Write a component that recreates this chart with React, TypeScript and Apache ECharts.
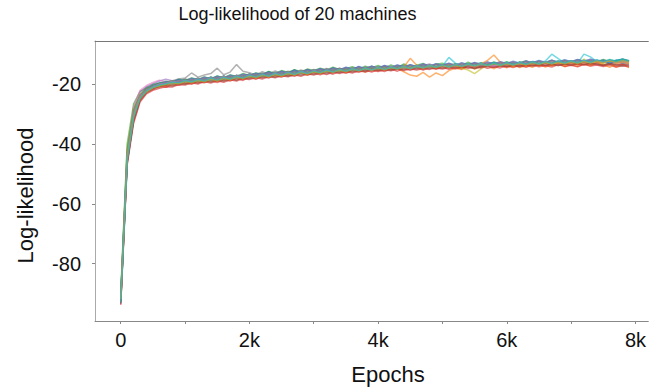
import React, { useEffect, useRef } from "react";
import * as echarts from "echarts";

const TITLE = "Log-likelihood of 20 machines";
const X_NAME = "Epochs";
const Y_NAME = "Log-likelihood";
const X_TICKS = [0, 1000, 2000, 3000, 4000, 5000, 6000, 7000, 8000];
const X_LABELS = [0, 2000, 4000, 6000, 8000];
const Y_TICKS = [-20, -40, -60, -80];
const EPOCH_STEP = 100;
const COLORS = ["#1f77b4", "#ff7f0e", "#2ca02c", "#d62728", "#9467bd", "#8c564b", "#e377c2", "#7f7f7f", "#bcbd22", "#17becf"];

const M01 = [-91.6,-43.0,-28.4,-23.9,-21.0,-20.9,-19.4,-20.1,-18.9,-19.6,
-18.5,-19.3,-18.1,-18.9,-17.6,-18.5,-17.2,-18.3,-17.0,-17.7,
-16.4,-17.5,-16.9,-15.8,-16.9,-15.7,-16.6,-15.2,-16.3,-15.0,
-16.1,-14.9,-15.7,-14.6,-15.8,-14.4,-15.3,-14.2,-15.2,-13.9,
-14.9,-13.8,-15.0,-14.1,-13.6,-14.8,-13.7,-14.6,-13.5,-14.7,
-13.4,-14.5,-13.2,-14.3,-13.8,-12.9,-14.2,-13.3,-14.0,-12.8,
-13.9,-12.7,-13.8,-13.0,-12.5,-13.7,-12.8,-13.6,-12.4,-13.5,
-12.6,-13.4,-12.2,-13.3,-12.9,-12.1,-13.2,-12.3,-13.0,-12.5];
const M02 = [-93.0,-45.5,-31.0,-24.8,-22.3,-20.7,-21.1,-19.9,-20.4,-19.3,
-19.8,-18.9,-19.5,-18.4,-19.2,-18.1,-18.7,-17.7,-18.6,-17.4,
-18.0,-16.9,-17.6,-16.5,-17.4,-16.2,-17.1,-16.4,-15.9,-16.8,
-15.6,-16.5,-15.3,-16.2,-14.9,-16.0,-15.4,-14.8,-15.9,-14.6,
-15.5,-14.3,-15.2,-14.7,-15.8,-16.9,-17.3,-16.0,-17.6,-16.2,
-17.1,-15.4,-14.6,-15.0,-13.9,-14.9,-14.1,-13.8,-14.8,-13.6,
-14.5,-13.4,-14.4,-13.7,-14.3,-13.1,-14.2,-13.5,-13.0,-14.1,
-13.3,-14.0,-13.2,-13.8,-12.9,-13.7,-13.1,-14.2,-13.4,-14.4];
const M03 = [-90.0,-40.0,-26.5,-22.4,-21.2,-19.9,-19.6,-19.0,-19.2,-18.3,
-18.7,-17.9,-18.4,-17.5,-18.1,-17.2,-17.8,-16.9,-17.3,-16.4,
-17.0,-16.2,-16.6,-15.7,-16.3,-15.4,-16.0,-15.1,-15.8,-14.9,
-15.4,-14.6,-15.2,-14.3,-15.0,-14.8,-14.1,-14.9,-13.9,-14.5,
-13.7,-14.6,-13.5,-14.4,-13.2,-14.2,-13.6,-13.0,-14.0,-13.3,
-12.9,-13.8,-13.1,-13.7,-12.6,-13.5,-12.8,-13.4,-12.5,-13.2,
-12.4,-13.3,-12.7,-12.2,-13.1,-12.3,-12.9,-11.9,-12.8,-12.1,
-12.7,-11.8,-12.5,-12.0,-12.6,-11.7,-12.4,-12.1,-11.6,-12.3];
const M04 = [-92.5,-46.0,-32.5,-25.5,-22.8,-21.7,-20.6,-21.0,-20.1,-20.3,
-19.6,-20.0,-19.1,-19.5,-18.7,-19.4,-18.5,-18.9,-18.0,-18.7,
-17.6,-18.3,-17.4,-17.9,-17.0,-17.6,-16.8,-17.3,-16.4,-17.0,
-16.2,-16.8,-15.9,-16.6,-15.7,-16.3,-15.5,-16.0,-15.2,-15.9,
-15.1,-15.7,-14.8,-15.6,-14.7,-15.3,-14.5,-15.2,-14.4,-15.0,
-14.3,-15.0,-14.2,-14.8,-14.0,-14.7,-13.9,-14.6,-14.1,-14.5,
-13.8,-14.4,-13.6,-14.3,-13.5,-14.1,-13.7,-14.2,-13.4,-14.0,
-13.6,-14.1,-13.3,-13.9,-13.5,-14.0,-13.6,-14.2,-13.8,-14.1];
const M05 = [-91.0,-43.5,-28.0,-22.6,-20.8,-19.9,-18.9,-18.3,-18.8,-19.4,
-18.2,-18.9,-17.9,-18.6,-17.5,-18.4,-17.3,-18.1,-16.9,-17.7,
-16.6,-17.3,-16.3,-17.1,-15.9,-16.7,-15.8,-16.5,-15.4,-16.2,
-15.1,-15.9,-14.8,-15.7,-14.6,-15.4,-14.9,-14.3,-15.2,-14.1,
-14.8,-13.9,-14.7,-13.8,-14.5,-13.6,-14.4,-13.7,-13.2,-14.2,
-13.5,-13.1,-14.0,-13.3,-13.9,-12.9,-13.8,-13.2,-12.7,-13.6,
-12.8,-13.5,-12.6,-13.4,-12.4,-13.2,-12.7,-13.1,-12.3,-13.0,
-12.5,-12.9,-12.2,-12.8,-12.0,-12.7,-12.3,-12.6,-11.9,-12.4];
const M06 = [-92.0,-45.0,-30.5,-24.6,-22.2,-21.3,-20.3,-20.4,-19.5,-19.9,
-19.2,-19.6,-18.7,-19.2,-18.3,-18.9,-18.1,-18.5,-17.6,-18.2,
-17.3,-17.9,-16.9,-17.4,-16.6,-17.2,-16.3,-16.9,-16.0,-16.6,
-15.7,-16.3,-15.4,-16.1,-15.3,-15.8,-15.0,-15.6,-14.7,-15.4,
-14.6,-15.3,-14.4,-15.0,-14.3,-14.9,-14.1,-14.8,-14.0,-14.6,
-13.9,-14.5,-13.7,-14.4,-13.6,-14.2,-13.5,-14.1,-13.3,-14.0,
-13.2,-13.9,-13.4,-13.8,-13.1,-13.7,-12.9,-13.6,-13.0,-13.5,
-12.8,-13.4,-12.7,-13.3,-12.9,-13.5,-12.8,-13.2,-13.4,-13.1];
const M07 = [-91.8,-43.2,-27.5,-22.0,-20.4,-19.4,-18.6,-19.3,-19.0,-18.6,
-19.1,-18.2,-18.8,-17.8,-18.5,-17.5,-18.2,-17.2,-17.9,-16.9,
-17.4,-16.6,-17.2,-16.2,-16.8,-15.9,-16.5,-15.6,-16.4,-15.3,
-15.9,-15.0,-15.7,-14.8,-15.5,-14.5,-15.3,-14.4,-15.0,-14.2,
-14.9,-14.0,-14.7,-13.8,-14.6,-13.9,-14.3,-13.6,-14.4,-13.5,
-14.2,-13.4,-14.0,-13.3,-13.9,-13.1,-13.7,-13.2,-13.8,-12.9,
-13.6,-12.8,-13.5,-12.7,-13.4,-12.6,-13.3,-12.5,-13.1,-12.4,
-13.0,-12.3,-12.8,-12.2,-12.9,-12.1,-12.7,-12.4,-12.6,-12.2];
const M08 = [-92.2,-44.5,-30.0,-24.0,-21.6,-20.6,-19.9,-19.5,-18.8,-18.2,
-17.9,-16.2,-17.6,-16.9,-16.4,-14.6,-16.8,-15.9,-13.4,-15.6,
-16.1,-16.9,-15.8,-16.6,-15.5,-16.4,-15.6,-16.1,-15.2,-15.9,
-15.0,-15.6,-14.7,-15.5,-14.6,-15.3,-14.4,-15.1,-14.2,-14.9,
-14.1,-14.8,-13.9,-14.6,-13.8,-14.4,-13.7,-14.3,-13.5,-14.1,
-13.4,-14.0,-13.3,-13.9,-13.1,-13.8,-13.0,-13.6,-12.9,-13.5,
-12.8,-13.4,-12.7,-13.3,-12.6,-13.1,-12.5,-13.0,-12.4,-12.9,
-12.3,-12.8,-12.2,-12.7,-12.1,-12.6,-12.0,-12.5,-11.9,-12.4];
const M09 = [-90.8,-41.5,-28.3,-23.3,-21.7,-20.6,-20.2,-19.4,-19.7,-18.9,
-19.3,-18.5,-19.0,-18.0,-18.6,-17.6,-18.3,-17.3,-17.9,-16.9,
-17.5,-16.6,-17.3,-16.3,-16.9,-16.0,-16.7,-15.8,-16.4,-15.5,
-16.1,-15.2,-15.8,-14.9,-15.6,-14.7,-15.4,-14.5,-15.1,-14.3,
-14.9,-14.1,-14.7,-13.9,-14.6,-13.8,-14.4,-13.6,-14.3,-13.4,
-14.1,-13.3,-13.9,-14.6,-15.2,-16.4,-14.8,-13.6,-13.1,-13.9,
-13.0,-13.8,-12.9,-13.6,-12.8,-13.5,-12.6,-13.3,-12.5,-13.2,
-12.4,-13.1,-11.6,-12.9,-12.3,-13.0,-12.2,-12.8,-12.0,-12.7];
const M10 = [-91.2,-44.8,-30.6,-24.4,-22.1,-20.8,-20.5,-19.6,-19.9,-19.1,
-19.4,-18.6,-19.1,-18.2,-18.8,-17.8,-18.4,-17.5,-18.1,-17.1,
-17.7,-16.8,-17.4,-16.4,-17.0,-16.1,-16.8,-15.7,-16.5,-15.4,
-16.0,-15.1,-15.8,-14.9,-15.5,-14.6,-15.3,-14.4,-15.0,-14.2,
-14.8,-14.0,-14.6,-13.8,-14.5,-13.5,-14.3,-13.7,-14.2,-13.4,
-13.9,-11.0,-12.9,-13.8,-13.0,-13.7,-12.8,-13.5,-12.7,-13.4,
-12.6,-13.3,-12.5,-13.2,-12.3,-13.0,-12.2,-9.9,-11.4,-12.8,
-12.1,-12.9,-9.9,-10.8,-12.4,-11.9,-12.7,-11.8,-12.5,-12.0];
const M11 = [-93.5,-46.5,-31.8,-24.7,-21.9,-20.3,-19.8,-19.1,-19.3,-18.4,
-18.8,-18.0,-18.5,-17.6,-18.2,-17.3,-17.9,-16.9,-17.5,-16.6,
-17.1,-16.3,-16.8,-15.9,-16.6,-15.6,-16.2,-15.3,-16.0,-15.1,
-15.6,-14.8,-15.4,-14.5,-15.1,-14.3,-14.9,-14.0,-14.7,-13.9,
-14.5,-13.7,-14.3,-13.5,-14.2,-13.4,-14.0,-13.2,-13.9,-13.1,
-13.7,-12.9,-13.6,-12.8,-13.4,-12.7,-13.3,-12.5,-13.2,-12.4,
-13.0,-12.3,-12.9,-12.2,-12.8,-12.0,-12.6,-11.9,-12.5,-11.8,
-12.4,-11.7,-12.3,-11.6,-12.2,-11.9,-13.1,-12.0,-11.5,-12.1];
const M12 = [-92.8,-45.8,-31.2,-24.9,-22.6,-21.4,-20.5,-20.6,-19.7,-19.9,
-19.2,-19.7,-18.8,-19.3,-18.4,-18.9,-18.0,-18.6,-17.7,-18.3,
-17.3,-18.0,-17.0,-17.6,-16.7,-17.3,-16.4,-17.0,-16.1,-16.7,
-15.8,-16.4,-15.5,-16.1,-15.2,-15.9,-15.0,-15.6,-14.8,-15.4,
-14.6,-15.2,-14.4,-15.0,-14.2,-11.3,-13.6,-14.6,-13.9,-14.7,
-13.7,-14.5,-13.6,-14.3,-13.4,-14.1,-13.2,-12.0,-10.2,-12.6,
-13.5,-14.2,-13.3,-14.0,-13.2,-13.9,-13.0,-13.8,-12.9,-13.6,
-12.8,-13.5,-12.7,-13.4,-12.6,-13.3,-14.3,-13.1,-12.5,-13.0];
const M13 = [-91.4,-42.0,-28.8,-23.5,-21.5,-20.4,-19.8,-19.5,-18.9,-19.2,
-18.4,-18.9,-18.0,-18.6,-17.6,-18.3,-17.3,-17.9,-17.0,-17.6,
-16.7,-17.3,-16.4,-17.0,-16.1,-16.8,-15.8,-16.5,-15.5,-16.2,
-15.3,-15.9,-15.0,-15.7,-14.8,-15.4,-14.6,-15.2,-14.4,-15.0,
-14.2,-14.9,-14.0,-14.7,-13.9,-14.5,-13.7,-14.4,-13.5,-14.2,
-13.4,-14.1,-13.3,-13.9,-13.1,-13.8,-13.0,-13.6,-12.9,-13.5,
-12.7,-13.4,-12.6,-13.2,-12.5,-13.1,-12.4,-12.9,-12.2,-12.8,
-12.1,-12.7,-12.0,-12.6,-11.9,-12.5,-11.8,-12.3,-11.7,-12.2];
const M14 = [-93.8,-47.0,-33.0,-25.9,-23.2,-22.0,-21.3,-20.8,-20.9,-20.1,
-20.2,-19.5,-19.9,-19.1,-19.6,-18.8,-19.3,-18.5,-18.9,-18.1,
-18.4,-17.7,-18.2,-17.4,-17.8,-17.1,-17.5,-16.8,-17.3,-16.5,
-16.9,-16.2,-16.7,-15.9,-16.4,-15.7,-16.2,-15.5,-15.9,-15.3,
-15.7,-15.1,-15.5,-14.9,-15.4,-14.8,-15.2,-14.7,-15.0,-14.5,
-14.9,-14.4,-14.8,-14.2,-14.6,-14.1,-14.5,-13.9,-14.3,-13.8,
-14.2,-13.7,-14.1,-13.6,-13.9,-13.5,-13.8,-13.4,-13.7,-13.2,
-13.6,-13.1,-13.5,-13.0,-13.4,-13.7,-13.2,-13.6,-13.3,-13.8];
const M15 = [-92.6,-44.2,-29.6,-23.8,-21.8,-20.6,-20.1,-19.3,-19.6,-18.8,
-19.1,-18.3,-18.7,-17.9,-18.4,-17.5,-18.1,-17.2,-17.7,-16.8,
-17.2,-16.5,-16.9,-16.1,-16.7,-15.8,-16.4,-15.5,-16.1,-15.2,
-15.7,-14.9,-15.5,-14.7,-15.2,-14.4,-15.0,-14.2,-14.8,-14.0,
-14.6,-13.8,-14.4,-13.6,-14.3,-13.5,-14.1,-13.3,-14.0,-13.2,
-13.8,-13.0,-13.7,-12.9,-13.5,-12.8,-13.4,-12.6,-13.3,-12.5,
-13.1,-12.4,-13.0,-12.3,-12.8,-12.2,-12.7,-12.0,-12.6,-11.9,
-12.4,-11.8,-12.3,-11.7,-12.2,-12.6,-12.0,-12.5,-11.9,-12.3];
const M16 = [-93.2,-46.2,-31.7,-25.2,-22.7,-21.5,-20.8,-20.2,-20.6,-19.7,
-20.0,-19.1,-19.6,-18.7,-19.3,-18.4,-19.0,-18.1,-18.6,-17.8,
-18.1,-17.4,-17.8,-17.1,-17.6,-16.8,-17.3,-16.5,-17.0,-16.2,
-16.6,-15.9,-16.4,-15.6,-16.1,-15.4,-15.9,-15.2,-15.6,-14.9,
-15.4,-14.8,-15.3,-14.6,-15.1,-14.5,-14.9,-14.3,-14.8,-14.2,
-14.6,-14.0,-14.5,-13.9,-14.3,-14.7,-14.1,-13.7,-14.2,-13.6,
-14.0,-13.5,-13.9,-13.3,-13.8,-13.2,-13.6,-13.1,-13.7,-13.0,
-13.5,-12.9,-13.4,-12.8,-13.3,-13.6,-13.1,-13.5,-13.9,-13.4];
const M17 = [-91.6,-43.8,-29.8,-23.9,-21.9,-20.8,-19.9,-19.6,-19.0,-19.3,
-18.6,-19.0,-18.1,-18.7,-17.8,-18.3,-17.4,-18.0,-17.1,-17.6,
-16.8,-17.4,-16.5,-17.1,-16.2,-16.8,-15.9,-16.6,-15.6,-16.3,
-15.4,-16.0,-15.1,-15.8,-14.9,-15.5,-14.7,-15.3,-14.5,-15.1,
-14.3,-14.9,-14.1,-14.7,-13.9,-14.6,-13.8,-14.4,-13.6,-14.2,
-13.5,-14.1,-13.3,-13.9,-13.2,-13.8,-13.0,-13.7,-13.9,-13.3,
-12.8,-13.5,-12.7,-13.3,-12.6,-13.2,-12.4,-13.0,-12.3,-12.9,
-12.2,-12.8,-12.1,-12.7,-12.0,-12.5,-12.2,-12.8,-12.1,-12.6];
const M18 = [-92.4,-45.2,-30.3,-24.2,-22.0,-20.9,-20.4,-19.7,-19.9,-19.0,
-19.3,-18.5,-19.0,-18.1,-18.7,-17.8,-18.4,-17.4,-18.0,-17.1,
-17.6,-16.7,-17.3,-16.4,-17.0,-16.1,-16.7,-15.8,-16.4,-15.5,
-16.0,-15.2,-15.8,-14.9,-15.5,-14.7,-15.3,-14.5,-15.1,-14.3,
-14.8,-14.1,-14.7,-13.9,-14.5,-13.7,-14.4,-13.6,-14.2,-13.4,
-14.0,-13.3,-13.9,-13.1,-13.8,-13.0,-13.6,-12.9,-13.5,-12.8,
-13.3,-12.7,-13.2,-12.5,-13.1,-12.4,-12.9,-12.3,-12.8,-12.2,
-12.7,-12.1,-12.6,-12.0,-12.4,-11.9,-12.3,-12.6,-12.0,-12.2];
const M19 = [-91.9,-44.6,-30.8,-24.5,-22.4,-21.1,-20.5,-20.0,-19.5,-19.8,
-19.0,-19.4,-18.6,-19.1,-18.2,-18.8,-17.9,-18.5,-17.5,-18.1,
-17.2,-17.8,-16.9,-17.5,-16.6,-17.2,-16.3,-16.9,-16.0,-16.6,
-15.7,-16.3,-15.5,-16.0,-15.2,-15.8,-14.9,-15.5,-14.7,-15.3,
-14.5,-15.1,-14.3,-14.9,-14.1,-14.8,-13.9,-14.6,-13.8,-14.4,
-13.6,-14.3,-13.5,-14.1,-13.3,-14.0,-13.2,-13.8,-13.1,-13.7,
-13.0,-13.6,-12.9,-13.5,-12.7,-13.3,-12.6,-13.2,-12.5,-13.1,
-12.4,-13.0,-12.3,-12.9,-12.2,-12.7,-12.1,-12.6,-12.0,-12.5];
const M20 = [-93.0,-45.6,-31.0,-24.7,-22.2,-21.0,-20.2,-19.8,-19.3,-19.5,
-18.7,-19.2,-18.3,-18.9,-17.9,-18.6,-17.6,-18.2,-17.3,-17.9,
-16.9,-17.6,-16.6,-17.3,-16.3,-17.0,-16.0,-16.7,-15.7,-16.4,
-15.5,-16.1,-15.2,-15.9,-15.0,-15.6,-14.8,-15.4,-14.6,-15.2,
-14.4,-15.0,-14.2,-14.8,-14.0,-14.7,-13.8,-14.5,-13.7,-14.3,
-13.5,-14.2,-13.4,-14.0,-13.2,-13.9,-13.1,-13.7,-12.9,-13.6,
-12.8,-13.5,-12.7,-13.3,-12.5,-13.2,-12.4,-13.0,-12.2,-12.9,
-12.1,-12.8,-11.9,-12.6,-11.8,-12.4,-11.7,-12.3,-11.6,-12.2];

const MACHINES = [M01, M02, M03, M04, M05, M06, M07, M08, M09, M10, M11, M12, M13, M14, M15, M16, M17, M18, M19, M20];

const FONT = "'Liberation Sans', Arial, Helvetica, sans-serif";

export default function App() {
  const ref = useRef<HTMLDivElement>(null);
  useEffect(() => {
    if (!ref.current) return;
    const chart = echarts.init(ref.current, undefined, { renderer: "svg" });
    const series = MACHINES.map((vals, i) => ({
      type: "line",
      name: "machine " + (i + 1),
      data: vals.map((v, k) => [k * EPOCH_STEP, v]),
      showSymbol: false,
      symbol: "none",
      lineStyle: { width: 1.5, color: COLORS[i % COLORS.length], opacity: 0.6 },
      z: 2,
    }));
    chart.setOption({
      animation: false,
      backgroundColor: "#ffffff",
      grid: { left: 95, right: 0, top: 41, bottom: 68, containLabel: false },
      xAxis: [
        {
          type: "value",
          min: -400,
          max: 8200,
          splitLine: { show: false },
          axisLine: { show: true, onZero: false, lineStyle: { color: "#888888", width: 1 } },
          axisTick: { show: true, customValues: X_TICKS, length: 3, inside: false, lineStyle: { color: "#888888" } },
          axisLabel: {
            customValues: X_LABELS,
            formatter: (v: number) => (v === 0 ? "0" : v / 1000 + "k"),
            fontSize: 20,
            color: "#111111",
            fontFamily: FONT,
            margin: 9,
          },
        },
        {
          type: "value",
          position: "top",
          min: -400,
          max: 8200,
          splitLine: { show: false },
          axisLine: { show: true, onZero: false, lineStyle: { color: "#777777", width: 1 } },
          axisTick: { show: false },
          axisLabel: { show: false },
        },
      ],
      yAxis: {
        type: "value",
        min: -99.2,
        max: -5.5,
        splitLine: { show: false },
        axisLine: { show: true, onZero: false, lineStyle: { color: "#aaaaaa", width: 1 } },
        axisTick: { show: true, customValues: Y_TICKS, length: 3, lineStyle: { color: "#888888" } },
        axisLabel: {
          customValues: Y_TICKS,
          fontSize: 20,
          color: "#111111",
          fontFamily: FONT,
          margin: 14,
        },
      },
      graphic: [
        {
          type: "text",
          x: 297.5,
          y: 14,
          style: { text: TITLE, fontSize: 18, fontFamily: FONT, fill: "#111111", textAlign: "center", textVerticalAlign: "middle" },
        },
        {
          type: "text",
          x: 388,
          y: 374,
          style: { text: X_NAME, fontSize: 22, fontFamily: FONT, fill: "#111111", textAlign: "center", textVerticalAlign: "middle" },
        },
        {
          type: "text",
          x: 25,
          y: 195.5,
          rotation: Math.PI / 2,
          style: { text: Y_NAME, fontSize: 22, fontFamily: FONT, fill: "#111111", textAlign: "center", textVerticalAlign: "middle" },
        },
      ],
      series,
    });
    return () => chart.dispose();
  }, []);
  return <div ref={ref} style={{ width: 649, height: 389, position: "absolute", left: 0, top: 0 }} />;
}
